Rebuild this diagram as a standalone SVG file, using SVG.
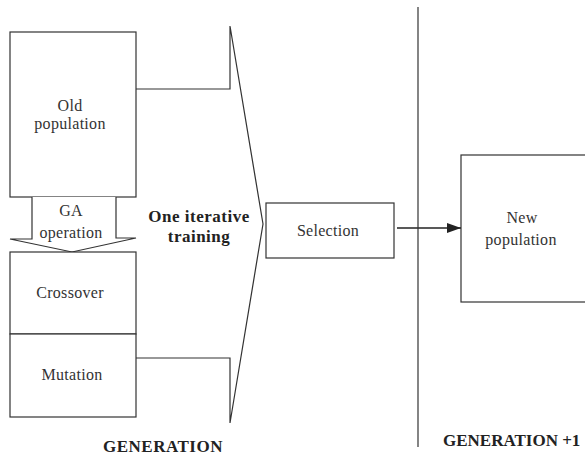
<svg xmlns="http://www.w3.org/2000/svg" width="585" height="458" viewBox="0 0 585 458">
  <style>
    .box { fill: #fff; stroke: #333; stroke-width: 1.2; }
    .ln { fill: none; stroke: #333; stroke-width: 1.2; }
    .t { font-family: "Liberation Serif", serif; font-size: 16px; letter-spacing: 0.3px; fill: #333; text-anchor: middle; }
    .b { font-family: "Liberation Serif", serif; font-size: 17px; font-weight: bold; letter-spacing: 0.5px; fill: #222; text-anchor: middle; }
  </style>
  <defs>
    <marker id="arrowhead" markerWidth="14" markerHeight="10" refX="14" refY="5" orient="auto" markerUnits="userSpaceOnUse">
      <path d="M0,0 L14,5 L0,10 z" fill="#222"/>
    </marker>
  </defs>
  <rect width="585" height="458" fill="#fff"/>

  <!-- large iteration arrow shape -->
  <g id="iteration">
    <path class="ln" d="M136,89 H230 V26 L263,224 L230,423 V358 H136"/>
    <text class="b" x="199" y="222">One iterative</text>
    <text class="b" x="199" y="242">training</text>
  </g>

  <g id="old-population">
    <rect class="box" x="10" y="32" width="126" height="165"/>
    <text class="t" x="70" y="111">Old</text>
    <text class="t" x="70" y="129">population</text>
  </g>

  <g id="ga-operation">
    <path class="box" d="M32,197 V239 H10 L72,252 L136,238 H116 V197"/>
    <text class="t" x="71" y="216">GA</text>
    <text class="t" x="71" y="238">operation</text>
  </g>

  <g id="crossover">
    <rect class="box" x="10" y="252" width="126" height="82"/>
    <text class="t" x="70" y="298">Crossover</text>
  </g>

  <g id="mutation">
    <rect class="box" x="10" y="334" width="126" height="83"/>
    <text class="t" x="72" y="380">Mutation</text>
  </g>

  <g id="selection">
    <rect class="box" x="266" y="203" width="128" height="55"/>
    <text class="t" x="328" y="236">Selection</text>
  </g>

  <g id="new-population">
    <rect class="box" x="461" y="155" width="130" height="147"/>
    <text class="t" x="522" y="223">New</text>
    <text class="t" x="521" y="245">population</text>
  </g>

  <g id="connectors">
    <line class="ln" x1="397" y1="228" x2="461" y2="228" marker-end="url(#arrowhead)" style="stroke:#222;stroke-width:1.6"/>
    <line class="ln" x1="418" y1="7" x2="418" y2="447"/>
  </g>

  <g id="labels">
    <text class="b" x="163" y="452">GENERATION</text>
    <text class="b" x="443" y="446" style="text-anchor:start;letter-spacing:0">GENERATION +1</text>
  </g>
</svg>
